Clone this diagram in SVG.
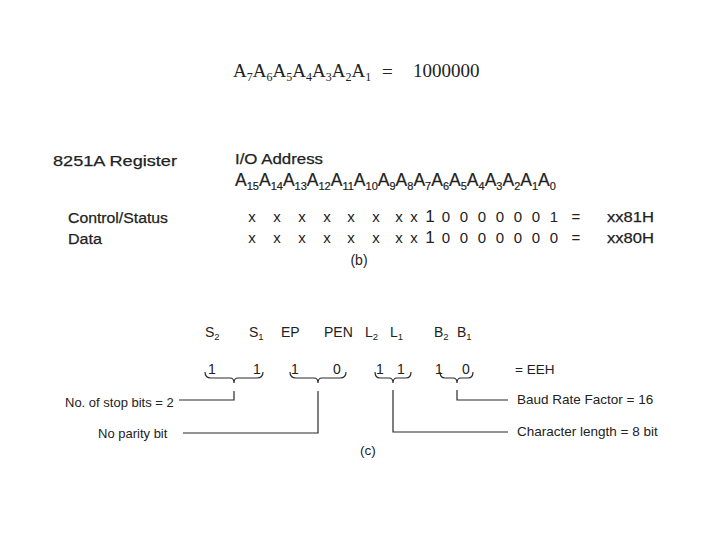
<svg xmlns="http://www.w3.org/2000/svg" width="720" height="540" viewBox="0 0 720 540">
<style>
.serif{font-family:"Liberation Serif","Times New Roman",serif;fill:#222;font-size:19px}
.s{font-family:"Liberation Sans",Arial,sans-serif;fill:#222}
.b{font-size:15.5px;stroke:#222;stroke-width:0.25}
.c{font-size:13px}
.bit{font-size:15px;text-anchor:middle}
.ln{fill:none;stroke:#2a2a2a;stroke-width:1.2}
</style>
<rect width="720" height="540" fill="#ffffff"/>

<g id="formula">
<text class="serif" x="233" y="77">A<tspan font-size="12" dy="4">7</tspan><tspan dy="-4">A</tspan><tspan font-size="12" dy="4">6</tspan><tspan dy="-4">A</tspan><tspan font-size="12" dy="4">5</tspan><tspan dy="-4">A</tspan><tspan font-size="12" dy="4">4</tspan><tspan dy="-4">A</tspan><tspan font-size="12" dy="4">3</tspan><tspan dy="-4">A</tspan><tspan font-size="12" dy="4">2</tspan><tspan dy="-4">A</tspan><tspan font-size="12" dy="4">1</tspan></text>
<text class="serif" x="382" y="78" font-size="26">=</text>
<text class="serif" x="413" y="77" font-size="20">1000000</text>
</g>

<g id="part-b">
<text class="s b" x="53" y="166" textLength="124" lengthAdjust="spacingAndGlyphs">8251A Register</text>
<text class="s b" x="235" y="164" textLength="88" lengthAdjust="spacingAndGlyphs">I/O Address</text>
<text class="s" font-size="17.5" x="235" y="186" stroke="#222" stroke-width="0.2">A<tspan font-size="11" dy="3.5">15</tspan><tspan dy="-3.5">A</tspan><tspan font-size="11" dy="3.5">14</tspan><tspan dy="-3.5">A</tspan><tspan font-size="11" dy="3.5">13</tspan><tspan dy="-3.5">A</tspan><tspan font-size="11" dy="3.5">12</tspan><tspan dy="-3.5">A</tspan><tspan font-size="11" dy="3.5">11</tspan><tspan dy="-3.5">A</tspan><tspan font-size="11" dy="3.5">10</tspan><tspan dy="-3.5">A</tspan><tspan font-size="11" dy="3.5">9</tspan><tspan dy="-3.5">A</tspan><tspan font-size="11" dy="3.5">8</tspan><tspan dy="-3.5">A</tspan><tspan font-size="11" dy="3.5">7</tspan><tspan dy="-3.5">A</tspan><tspan font-size="11" dy="3.5">6</tspan><tspan dy="-3.5">A</tspan><tspan font-size="11" dy="3.5">5</tspan><tspan dy="-3.5">A</tspan><tspan font-size="11" dy="3.5">4</tspan><tspan dy="-3.5">A</tspan><tspan font-size="11" dy="3.5">3</tspan><tspan dy="-3.5">A</tspan><tspan font-size="11" dy="3.5">2</tspan><tspan dy="-3.5">A</tspan><tspan font-size="11" dy="3.5">1</tspan><tspan dy="-3.5">A</tspan><tspan font-size="11" dy="3.5">0</tspan></text>
<text class="s b" x="68" y="223" textLength="100" lengthAdjust="spacingAndGlyphs">Control/Status</text>
<text class="s b" x="68" y="244" textLength="34" lengthAdjust="spacingAndGlyphs">Data</text>
<g id="row-control">
<text class="s bit" y="222"><tspan x="252">x</tspan><tspan x="277">x</tspan><tspan x="302">x</tspan><tspan x="327">x</tspan><tspan x="351">x</tspan><tspan x="376">x</tspan><tspan x="399">x</tspan><tspan x="414">x</tspan><tspan x="430" font-size="17">1</tspan><tspan x="446">0</tspan><tspan x="464">0</tspan><tspan x="482">0</tspan><tspan x="500">0</tspan><tspan x="518">0</tspan><tspan x="536">0</tspan><tspan x="554">1</tspan><tspan x="576">=</tspan></text>
<text class="s b" x="607" y="222" textLength="47" lengthAdjust="spacingAndGlyphs">xx81H</text>
</g>
<g id="row-data">
<text class="s bit" y="243"><tspan x="252">x</tspan><tspan x="277">x</tspan><tspan x="302">x</tspan><tspan x="327">x</tspan><tspan x="351">x</tspan><tspan x="376">x</tspan><tspan x="399">x</tspan><tspan x="414">x</tspan><tspan x="430" font-size="17">1</tspan><tspan x="446">0</tspan><tspan x="464">0</tspan><tspan x="482">0</tspan><tspan x="500">0</tspan><tspan x="518">0</tspan><tspan x="536">0</tspan><tspan x="554">0</tspan><tspan x="576">=</tspan></text>
<text class="s b" x="607" y="243" textLength="47" lengthAdjust="spacingAndGlyphs">xx80H</text>
</g>
<text class="s" font-size="14" x="359" y="265" text-anchor="middle">(b)</text>
</g>

<g id="part-c">
<g id="labels">
<text class="s" font-size="14" x="205" y="337">S<tspan font-size="9.5" dy="3">2</tspan></text>
<text class="s" font-size="14" x="249" y="337">S<tspan font-size="9.5" dy="3">1</tspan></text>
<text class="s" font-size="14" x="281" y="337">EP</text>
<text class="s" font-size="14" x="324" y="337">PEN</text>
<text class="s" font-size="14" x="365" y="337">L<tspan font-size="9.5" dy="3">2</tspan></text>
<text class="s" font-size="14" x="390" y="337">L<tspan font-size="9.5" dy="3">1</tspan></text>
<text class="s" font-size="14" x="434" y="337">B<tspan font-size="9.5" dy="3">2</tspan></text>
<text class="s" font-size="14" x="457" y="337">B<tspan font-size="9.5" dy="3">1</tspan></text>
</g>
<g id="bits">
<text class="s" font-size="14" y="374" text-anchor="middle"><tspan x="212">1</tspan><tspan x="257">1</tspan><tspan x="295">1</tspan><tspan x="337">0</tspan><tspan x="380">1</tspan><tspan x="401">1</tspan><tspan x="439">1</tspan><tspan x="466">0</tspan></text>
<text class="s" font-size="13.5" x="515" y="374">= EEH</text>
</g>
<g id="connectors">
<path class="ln" d="M205,372 Q205,378 211,378 L230,378 Q234,378 234,383 Q234,378 238,378 L257,378 Q263,378 263,372"/>
<path class="ln" d="M290,372 Q290,378 296,378 L314,378 Q318,378 318,383 Q318,378 322,378 L340,378 Q346,378 346,372"/>
<path class="ln" d="M375,372 Q375,378 380,378 L389,378 Q393,378 393,383 Q393,378 397,378 L406,378 Q411,378 411,372"/>
<path class="ln" d="M440,372 Q440,378 445,378 L453,378 Q457,378 457,383 Q457,378 461,378 L468,378 Q473,378 473,372"/>
<path class="ln" d="M234,391 V400 H179"/>
<path class="ln" d="M318,391 V433 H183"/>
<path class="ln" d="M393,390 V432 H508"/>
<path class="ln" d="M457,390 V400 H508"/>
</g>
<text class="s c" x="65" y="407">No. of stop bits = 2</text>
<text class="s c" x="98" y="438">No parity bit</text>
<text class="s" font-size="13.5" x="517" y="404">Baud Rate Factor = 16</text>
<text class="s" font-size="13.5" x="517" y="436">Character length = 8 bit</text>
<text class="s" font-size="13.5" x="360" y="455">(c)</text>
</g>
</svg>
